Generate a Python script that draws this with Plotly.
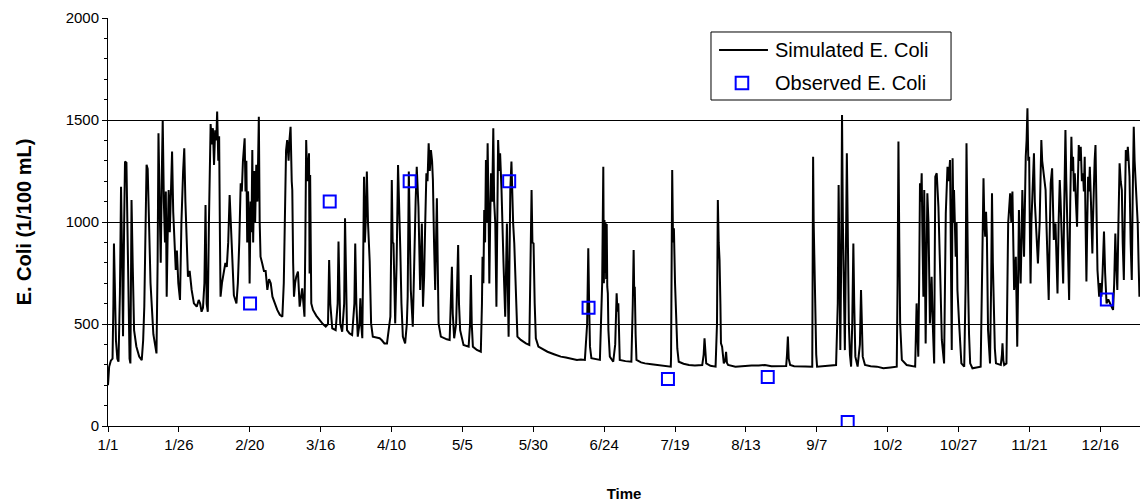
import plotly.graph_objects as go

# Simulated E. coli series: (day offset from 1/1, concentration in 1/100 mL)
sim_jan = [
    (0.0, 200), (0.4, 290), (1.0, 320), (1.6, 330), (1.9, 600), (2.1, 895), (2.4, 700), (2.8, 420),
    (3.3, 330), (3.7, 315), (4.2, 650), (4.6, 1173), (4.9, 900), (5.3, 440), (5.7, 1000), (6.0, 1296),
    (6.5, 1290), (6.8, 1000), (7.2, 600), (7.6, 330), (7.9, 307), (8.1, 700), (8.3, 1108), (8.7, 800),
    (9.2, 470), (10.0, 390), (11.0, 340), (11.9, 323), (12.4, 420), (12.8, 585), (13.2, 1000), (13.6, 1280),
    (14.0, 1260), (14.4, 990), (15.0, 700), (16.0, 450), (17.1, 356), (17.5, 800), (17.8, 1435), (18.2, 1100),
    (18.6, 800), (19.0, 1250), (19.3, 1500), (19.7, 1100), (20.1, 900), (20.4, 1150), (20.7, 634), (21.0, 900),
    (21.4, 1157), (21.8, 950), (22.3, 1200), (22.6, 1345), (23.0, 1050), (23.5, 880), (23.9, 765), (24.3, 860),
    (24.8, 700), (25.4, 618), (25.9, 1000), (26.5, 1250), (26.9, 1361), (27.3, 1100), (27.8, 900), (28.2, 732),
    (28.8, 760), (29.5, 667), (30.3, 601), (31.3, 585), (32.0, 618),
]
sim_feb = [
    (32.5, 600), (33.0, 560), (33.5, 580), (34.0, 700), (34.4, 1083), (34.8, 600), (35.2, 560), (35.6, 1000),
    (36.0, 1420), (36.2, 1480), (36.6, 1380), (37.0, 1460), (37.4, 1280), (37.8, 1450), (38.2, 1400), (38.5, 1541),
    (38.9, 1300), (39.2, 1420), (39.5, 900), (39.7, 634), (40.2, 700), (40.8, 760), (41.4, 800), (41.9, 780),
    (42.4, 900), (42.9, 1132), (43.3, 1000), (43.8, 863), (44.4, 640), (45.3, 601), (45.8, 700), (46.3, 900),
    (46.8, 1190), (47.2, 1150), (47.6, 1300), (48.2, 1410), (48.5, 1150), (48.8, 1300), (49.1, 900), (49.4, 1150),
    (49.7, 1000), (49.95, 699), (50.3, 1100), (50.6, 950), (50.9, 1353), (51.2, 900), (51.6, 1250), (51.9, 1000),
    (52.3, 1280), (52.7, 1100), (53.2, 1516), (53.5, 1000), (53.8, 830), (54.4, 797), (55.0, 760), (55.6, 760),
    (56.2, 667), (56.8, 720), (57.4, 700), (58.0, 634), (59.0, 590), (59.7, 569), (60.6, 545), (61.5, 536),
    (62.0, 700), (62.4, 1010), (62.8, 1350), (63.2, 1402), (63.7, 1300), (64.0, 1400), (64.4, 1467), (64.8, 1200),
    (65.0, 1157), (65.3, 800), (65.6, 634),
]
sim_mar = [
    (66.0, 700), (66.4, 732), (67.0, 757), (67.6, 585), (68.5, 675), (69.3, 536), (69.6, 900), (69.9, 1402),
    (70.3, 1200), (70.9, 1337), (71.1, 748), (71.3, 1230), (71.7, 601), (72.3, 569), (73.5, 540), (74.6, 520),
    (75.8, 500), (76.8, 487), (77.6, 500), (78.0, 814), (78.4, 600), (79.1, 479), (80.3, 470), (81.0, 600),
    (81.3, 904), (81.6, 700), (81.9, 503), (82.6, 462), (83.3, 600), (83.6, 1018), (83.9, 700), (84.3, 470),
    (85.2, 454), (86.1, 446), (86.9, 600), (87.2, 895), (87.6, 600), (88.1, 438), (88.7, 500), (89.0, 626),
    (89.3, 500), (89.7, 430), (90.0, 800), (90.3, 1222), (90.6, 900), (90.9, 1000), (91.3, 1247), (91.7, 1000),
    (92.3, 806), (92.8, 503), (93.4, 438), (94.5, 435), (95.8, 430), (96.6, 420), (97.5, 405), (98.4, 405),
]
sim_apr = [
    (99.6, 536), (99.9, 900), (100.1, 1206), (100.4, 900), (100.7, 895), (101.3, 503), (101.8, 800), (102.3, 1279),
    (102.7, 1100), (103.1, 863), (103.5, 600), (104.0, 438), (104.8, 405), (105.4, 500), (105.7, 634), (106.1, 1247),
    (106.4, 1000), (106.8, 667), (107.5, 487), (108.0, 895), (108.5, 1100), (108.9, 1271), (109.5, 1075), (110.1, 667),
    (110.7, 993), (111.1, 585), (111.5, 732), (111.9, 1000), (112.3, 1239), (112.7, 1200), (113.1, 1386), (113.5, 1250),
    (113.9, 1353), (114.3, 1300), (114.6, 1206), (115.0, 900), (115.4, 667), (115.7, 900), (116.0, 1116), (116.3, 800),
    (116.6, 503), (117.4, 438), (118.4, 430), (119.5, 425), (120.5, 422), (121.0, 600), (121.3, 781), (121.6, 550),
    (122.1, 430), (122.8, 503), (123.2, 700), (123.5, 887), (123.8, 600), (124.2, 470), (125.4, 397), (126.3, 392),
    (127.2, 389), (127.7, 500), (128.0, 740), (128.3, 500), (128.7, 389), (130.1, 373), (131.5, 364),
]
sim_may = [
    (131.9, 600), (132.1, 830), (132.4, 700), (132.7, 1059), (133.0, 900), (133.3, 1304), (133.6, 1000), (133.9, 1386),
    (134.2, 1100), (134.5, 699), (134.8, 1000), (135.1, 1239), (135.5, 1100), (135.9, 1459), (136.2, 1100), (136.6, 993),
    (137.0, 585), (137.3, 1000), (137.6, 1402), (138.0, 1250), (138.3, 1337), (138.8, 1157), (139.2, 900), (139.5, 797),
    (140.1, 536), (140.4, 800), (140.7, 993), (141.0, 700), (141.3, 438), (141.6, 800), (141.9, 1157), (142.3, 1296),
    (142.6, 1100), (142.9, 993), (143.3, 895), (143.9, 667), (144.4, 438), (145.6, 422), (146.5, 412), (147.4, 405),
    (148.6, 397), (149.0, 700), (149.4, 1157), (149.7, 900), (150.1, 895), (150.5, 600), (150.9, 430), (151.8, 389),
    (153.4, 375), (155.0, 364), (157.3, 352), (159.7, 340), (161.5, 336), (163.3, 332), (165.4, 324),
]
sim_jun = [
    (166.8, 326), (168.2, 324), (169.0, 500), (169.4, 871), (169.7, 600), (170.0, 389), (170.5, 332), (172.0, 328),
    (173.5, 324), (174.3, 700), (174.7, 1271), (174.9, 700), (175.1, 1010), (175.3, 750), (175.5, 1000), (175.7, 720),
    (175.9, 990), (176.1, 683), (176.3, 650), (176.5, 470), (177.0, 340), (178.2, 315), (178.9, 400), (179.4, 650),
    (179.7, 560), (180.0, 601), (180.3, 450), (180.5, 324), (182.5, 318), (184.6, 315), (185.1, 600), (185.4, 863),
    (185.6, 650), (185.8, 683), (186.1, 450), (186.4, 324), (188.0, 312), (189.4, 307), (191.7, 303), (194.1, 299),
    (196.3, 295), (198.5, 291),
]
sim_jul = [
    (198.6, 340), (199.0, 1255), (199.3, 900), (199.6, 969), (200.0, 700), (200.4, 503), (200.8, 380), (201.3, 315),
    (203.0, 305), (204.9, 299), (207.0, 297), (209.6, 299), (210.1, 350), (210.4, 430), (210.7, 340), (211.0, 307),
    (212.5, 295), (214.3, 291), (214.8, 500), (215.1, 1108), (215.4, 900), (215.7, 814), (216.0, 600), (216.2, 405),
    (216.6, 389), (217.2, 307), (217.7, 320), (218.0, 364), (218.3, 310), (218.7, 299), (221.3, 291), (224.0, 294),
    (227.0, 297), (229.5, 296), (231.7, 299),
]
sim_aug = [
    (234.0, 293), (237.0, 295), (239.2, 294), (239.5, 350), (239.8, 438), (240.1, 330), (240.6, 299), (242.0, 293),
    (243.8, 291), (246.0, 292), (248.4, 291), (248.7, 1320), (248.9, 1000), (249.2, 765), (249.5, 552), (249.8, 350),
    (250.1, 291), (252.5, 295), (254.5, 297), (256.8, 299), (257.4, 600), (257.7, 1181), (258.0, 800), (258.3, 372),
    (258.6, 800), (258.9, 1525), (259.2, 1000), (259.4, 830), (259.9, 372), (260.3, 900), (260.6, 1337), (260.9, 1000),
    (261.3, 503), (261.7, 350), (262.1, 291), (262.5, 500), (262.9, 895), (263.2, 600), (263.6, 340), (264.4, 291),
]
sim_sep = [
    (265.2, 400), (265.6, 667), (265.9, 450), (266.2, 340), (267.0, 299), (269.0, 293), (271.2, 291), (273.5, 283),
    (276.0, 287), (278.2, 291), (278.5, 700), (278.8, 1394), (279.1, 900), (279.4, 503), (280.0, 324), (281.7, 299),
    (284.7, 291), (285.0, 450), (285.2, 601), (285.5, 450), (285.8, 340), (286.1, 700), (286.4, 1190), (286.7, 1100),
    (287.0, 1239), (287.3, 900), (287.6, 634), (287.9, 1157), (288.1, 800), (288.4, 405), (288.7, 800), (289.0, 1141),
    (289.4, 993), (289.9, 503), (290.2, 600), (290.5, 732), (290.9, 500), (291.4, 307), (291.6, 800), (291.8, 1222),
    (292.3, 1239), (292.9, 1075), (293.5, 765), (294.1, 422), (294.9, 307), (295.2, 700), (295.5, 1043), (296.1, 1271),
    (296.5, 1200), (297.0, 1304), (297.3, 900), (297.6, 373),
]
sim_nov = [
    (297.9, 1312), (298.2, 1000), (298.4, 1157), (298.7, 900), (299.0, 830), (299.3, 1000), (299.6, 667), (300.2, 503),
    (300.6, 380), (301.0, 307), (302.0, 291), (302.5, 700), (302.8, 1386), (303.1, 900), (303.4, 667), (303.7, 450),
    (304.1, 307), (304.9, 283), (306.3, 287), (307.8, 291), (308.4, 830), (308.8, 1214), (309.1, 1000), (309.4, 928),
    (309.7, 1050), (310.0, 928), (310.4, 470), (310.7, 380), (311.1, 307), (311.5, 700), (311.8, 1141), (312.1, 800),
    (312.5, 503), (312.8, 380), (313.2, 307), (314.9, 299), (315.3, 350), (315.5, 405), (315.8, 320), (316.1, 299),
    (316.9, 307), (317.2, 700), (317.5, 993), (318.2, 1141), (318.6, 1000), (319.0, 1149), (319.3, 900), (319.6, 667),
    (320.2, 830), (320.7, 389), (321.0, 700), (321.3, 1059), (321.6, 850), (321.9, 699), (322.2, 900), (322.5, 1157),
    (323.1, 830), (323.4, 1100), (323.7, 1320), (324.0, 1400), (324.3, 1557), (324.6, 1300), (324.9, 1320), (325.2, 900),
    (325.4, 699), (325.7, 1000), (326.0, 1157), (326.6, 1337), (326.9, 1100), (327.2, 993), (327.6, 900), (328.0, 797),
    (328.3, 900), (328.6, 993), (328.9, 1200), (329.2, 1402), (329.5, 1300), (329.9, 1239), (330.3, 1200), (330.7, 1157),
]
sim_dec = [
    (331.0, 993), (331.4, 800), (331.8, 618), (332.1, 900), (332.5, 1190), (333.0, 1263), (333.3, 1000), (333.6, 912),
    (334.2, 993), (334.5, 800), (334.9, 650), (335.3, 1000), (335.7, 1206), (336.0, 1100), (336.3, 961), (336.6, 800),
    (336.9, 699), (337.3, 1100), (337.7, 1451), (338.0, 1200), (338.4, 993), (338.7, 800), (339.0, 618), (339.4, 1100),
    (339.8, 1418), (340.1, 1250), (340.4, 1320), (340.7, 1150), (341.0, 1239), (341.4, 1100), (341.8, 977), (342.1, 1200),
    (342.4, 1377), (342.7, 1300), (343.1, 1369), (343.5, 1200), (343.9, 1239), (344.2, 1150), (344.5, 1320), (344.8, 1000),
    (345.1, 708), (345.4, 1000), (345.7, 1222), (346.0, 1150), (346.3, 1271), (346.7, 1100), (347.2, 846), (347.4, 1000),
    (347.7, 1239), (348.0, 1300), (348.3, 1377), (348.6, 1100), (349.0, 765), (349.3, 700), (349.6, 634), (350.0, 700),
    (350.4, 634), (350.8, 750), (351.3, 953), (351.7, 750), (352.2, 601), (352.8, 620), (353.4, 600), (353.9, 585),
    (354.5, 569), (354.9, 700), (355.3, 944), (355.6, 800), (356.0, 667), (356.4, 1000), (356.8, 1288), (357.2, 1200),
    (357.6, 1157), (357.9, 900), (358.3, 716), (358.6, 1000), (359.0, 1353), (359.4, 1300), (359.7, 1369), (360.0, 1300),
    (360.3, 1222), (360.7, 900), (361.1, 716), (361.4, 1100), (361.8, 1467), (362.1, 1300), (362.4, 1206), (362.8, 1100),
    (363.2, 993), (363.5, 800), (363.8, 634),
]

# Observed E. coli samples
obs_day = [50.1, 78.2, 106.4, 141.5, 169.5, 197.5, 232.7, 260.9, 352.3]
obs_val = [600, 1100, 1200, 1200, 580, 230, 240, 20, 620]

# Date-axis labels every 25 days (leap year)
tick_days = [0, 25, 50, 75, 100, 125, 150, 175, 200, 225, 250, 275, 300, 325, 350]
tick_labels = ["1/1", "1/26", "2/20", "3/16", "4/10", "5/5", "5/30", "6/24", "7/19",
               "8/13", "9/7", "10/2", "10/27", "11/21", "12/16"]

sim_all = sim_jan + sim_feb + sim_mar + sim_apr + sim_may + sim_jun + sim_jul + sim_aug + sim_sep + sim_nov + sim_dec
sim_day = [p[0] for p in sim_all]
sim_val = [p[1] for p in sim_all]

FONT = "Liberation Sans, Arial, sans-serif"
BLUE = "#0000ff"

fig = go.Figure()
fig.add_trace(go.Scatter(
    x=sim_day, y=sim_val, mode="lines", name="Simulated E. Coli",
    line=dict(color="black", width=2), showlegend=False,
))
fig.add_trace(go.Scatter(
    x=obs_day, y=obs_val, mode="markers", name="Observed E. Coli",
    marker=dict(symbol="square-open", size=12, color=BLUE, line=dict(width=2, color=BLUE)),
    showlegend=False,
))

# Legend box drawn in paper coordinates (upper middle-right of the plot area)
legend_shapes = [
    dict(type="rect", xref="paper", yref="paper", x0=0.5843, x1=0.8169, y0=0.799, y1=0.9657,
         line=dict(color="black", width=1), fillcolor="white", layer="above"),
    dict(type="line", xref="paper", yref="paper", x0=0.5921, x1=0.6395, y0=0.9216, y1=0.9216,
         line=dict(color="black", width=2), layer="above"),
    dict(type="rect", xref="paper", yref="paper", x0=0.6082, x1=0.6204, y0=0.8255, y1=0.8559,
         line=dict(color=BLUE, width=2), fillcolor="rgba(0,0,0,0)", layer="above"),
]
legend_text = [
    dict(xref="paper", yref="paper", x=0.6444, y=0.9216, xanchor="left", yanchor="middle",
         text="Simulated E. Coli", showarrow=False, font=dict(family=FONT, size=20, color="black")),
    dict(xref="paper", yref="paper", x=0.6444, y=0.8407, xanchor="left", yanchor="middle",
         text="Observed E. Coli", showarrow=False, font=dict(family=FONT, size=20, color="black")),
]

fig.update_layout(
    width=1140, height=504,
    margin=dict(l=108, r=0, t=18, b=78),
    paper_bgcolor="white", plot_bgcolor="white",
    font=dict(family=FONT, size=15, color="black"),
    showlegend=False,
    shapes=legend_shapes,
    annotations=legend_text,
    xaxis=dict(
        range=[0, 364], tickmode="array", tickvals=tick_days, ticktext=tick_labels,
        showgrid=False, zeroline=False, showline=True, linecolor="black", linewidth=1,
        ticks="outside", ticklen=5, tickcolor="black",
        tickfont=dict(family=FONT, size=15, color="black"),
        title=dict(text="<b>Time</b>", font=dict(family=FONT, size=15, color="black"), standoff=36),
    ),
    yaxis=dict(
        range=[0, 2000], tickmode="array", tickvals=[0, 500, 1000, 1500, 2000],
        showgrid=True, gridcolor="black", gridwidth=1, zeroline=False,
        showline=True, linecolor="black", linewidth=1,
        ticks="outside", ticklen=5, tickcolor="black",
        minor=dict(dtick=100, ticks="outside", ticklen=3, tickcolor="black", showgrid=False),
        tickfont=dict(family=FONT, size=15, color="black"),
        title=dict(text="<b>E. Coli (1/100 mL)</b>", font=dict(family=FONT, size=20, color="black"), standoff=28),
    ),
)

fig.write_html("out.html")
